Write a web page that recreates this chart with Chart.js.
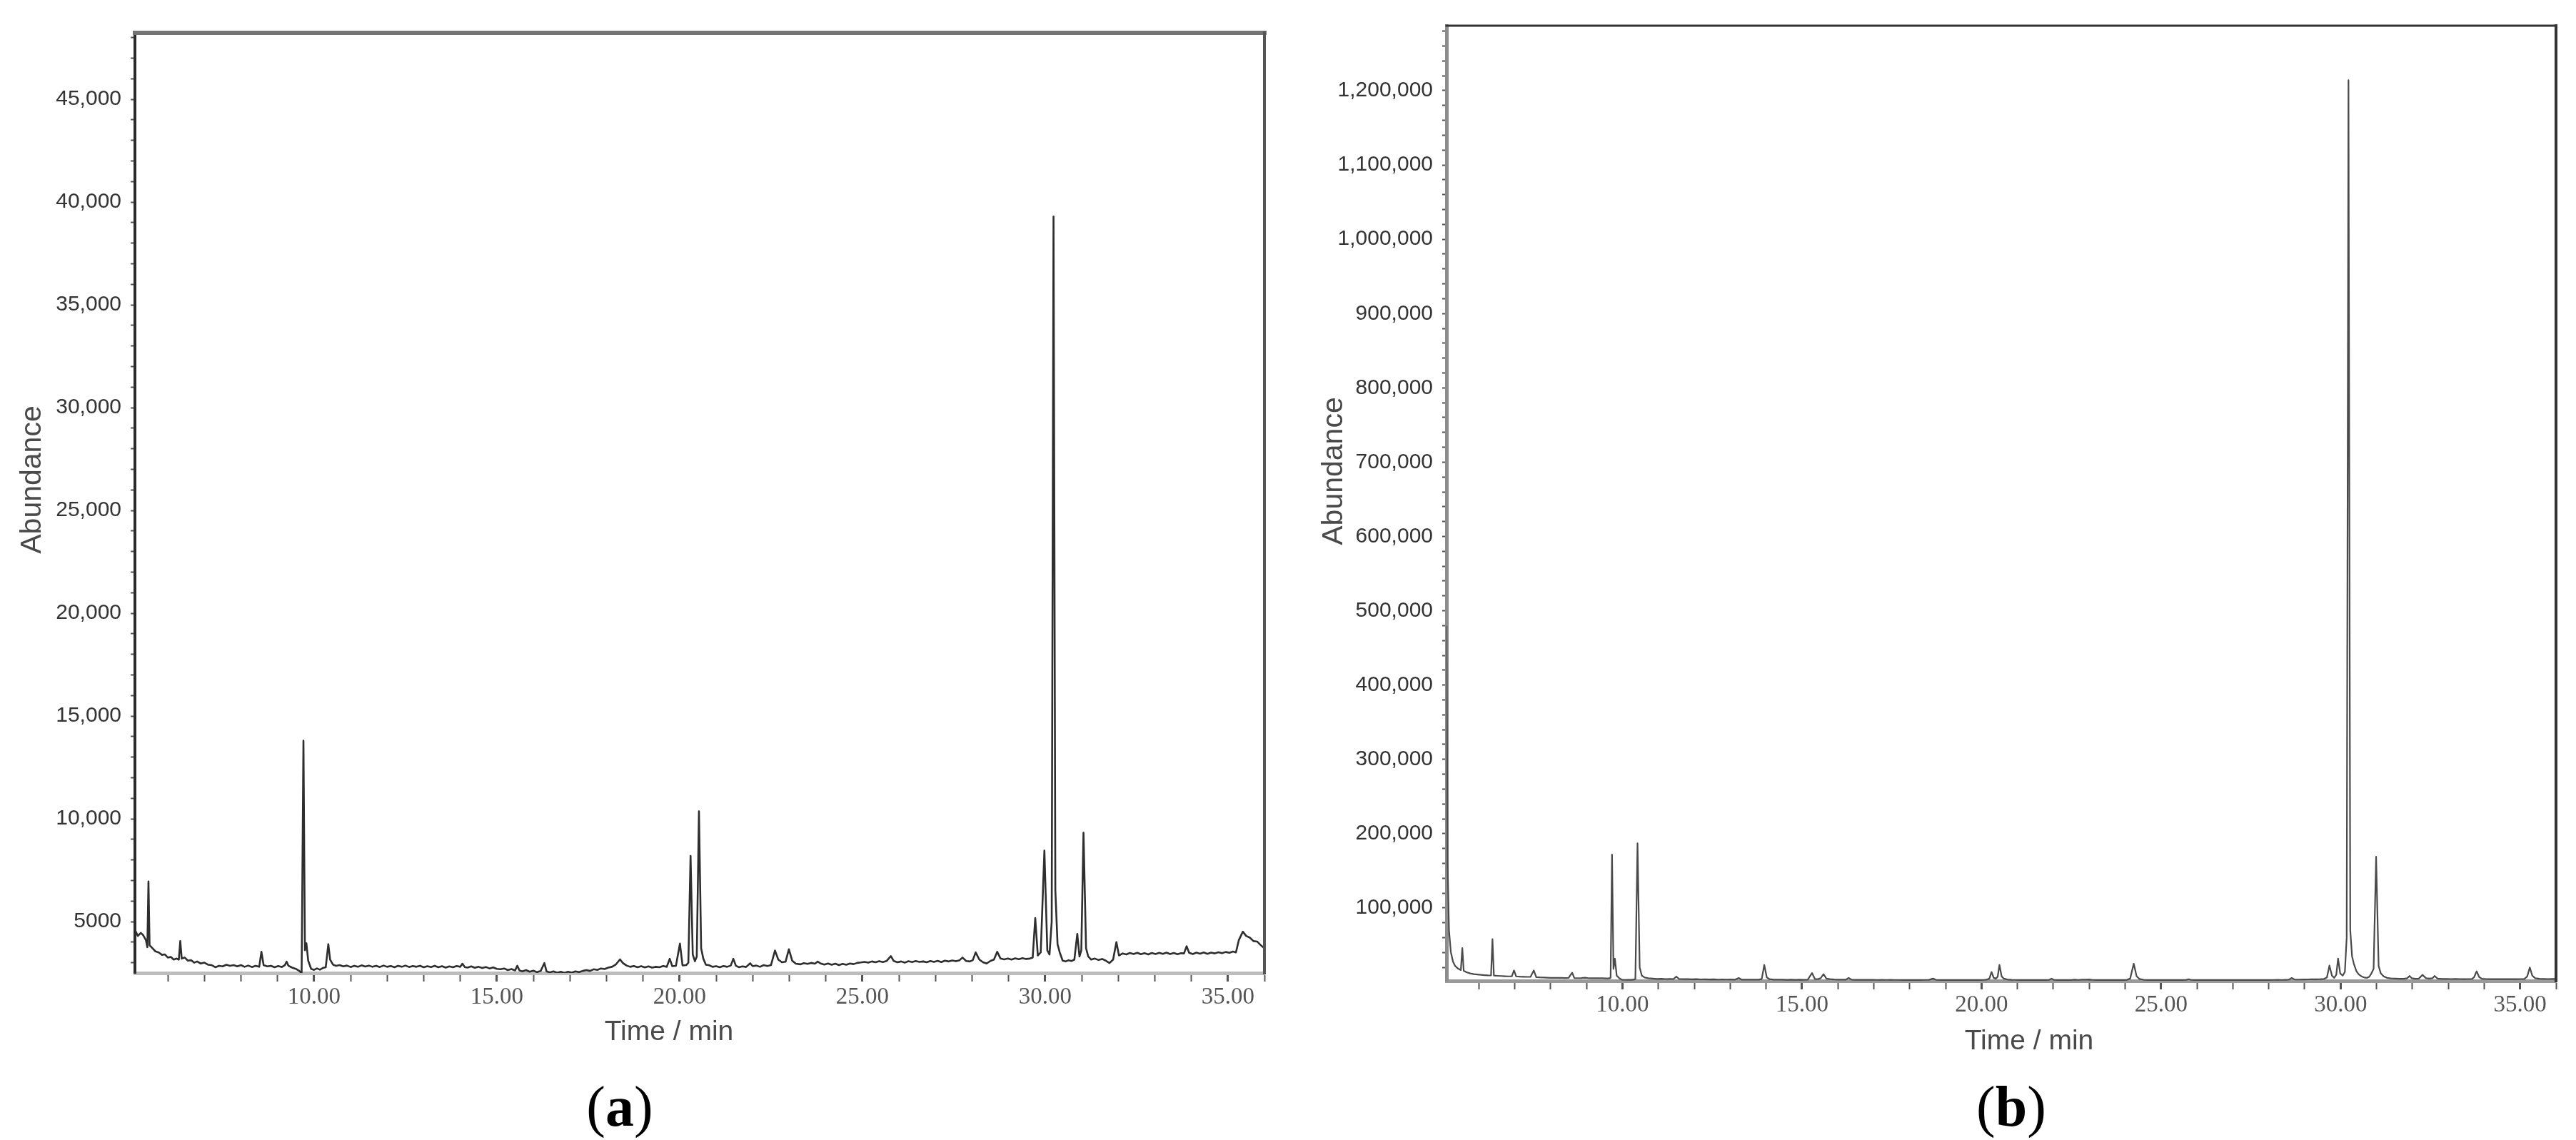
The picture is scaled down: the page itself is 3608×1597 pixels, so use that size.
<!DOCTYPE html>
<html>
<head>
<meta charset="utf-8">
<title>Chromatograms</title>
<script src="https://cdn.jsdelivr.net/npm/chart.js@4.4.1/dist/chart.umd.min.js"></script>
<style>
    html, body { margin: 0; padding: 0; background: #fff; }
    body { width: 3608px; height: 1597px; position: relative; overflow: hidden; font-family: "Liberation Sans", Arial, sans-serif; }
    canvas { position: absolute; top: 0; }
    #chartA { left: 0; }
    #chartB { left: 1800px; }
    .lbl { position: absolute; white-space: nowrap; text-align: center; }
    .ytitle { width: 300px; height: 50px; line-height: 50px; font-size: 41px; color: #4a4a4a; transform: rotate(-90deg); }
    .xtitle { width: 300px; font-size: 39px; line-height: 39px; color: #4a4a4a; }
    .panel { width: 200px; font-family: "Liberation Serif", "Times New Roman", serif; font-size: 80px; line-height: 80px; color: #000; }
</style>
</head>
<body>
<canvas id="chartA" width="1800" height="1597"></canvas>
<canvas id="chartB" width="1808" height="1597"></canvas>

<div class="lbl ytitle" style="left:-107px; top:647px;">Abundance</div>
<div class="lbl ytitle" style="left:1716px; top:635px;">Abundance</div>
<div class="lbl xtitle" style="left:787px; top:1424px;">Time / min</div>
<div class="lbl xtitle" style="left:2692px; top:1437px;">Time / min</div>
<div class="lbl panel" style="left:768px; top:1510px;">(<b>a</b>)</div>
<div class="lbl panel" style="left:2717px; top:1510px;">(<b>b</b>)</div>

<script>
// retention time (min) and abundance
let timeA = [
    5.10, 5.18, 5.26, 5.32, 5.40, 5.44, 5.47, 5.50, 5.58, 5.66,
    5.75, 5.84, 5.92, 6.00, 6.08, 6.16, 6.24, 6.30, 6.34, 6.38,
    6.46, 6.55, 6.64, 6.72, 6.80, 6.90, 7.00, 7.10, 7.20, 7.30,
    7.40, 7.50, 7.60, 7.70, 7.80, 7.90, 8.00, 8.10, 8.20, 8.30,
    8.40, 8.50, 8.56, 8.62, 8.72, 8.82, 8.92, 9.02, 9.12, 9.20,
    9.25, 9.30, 9.40, 9.50, 9.58, 9.66, 9.71, 9.75, 9.79, 9.84,
    9.92, 10.00, 10.08, 10.16, 10.24, 10.32, 10.39, 10.44, 10.52, 10.60,
    10.70, 10.80, 10.90, 11.00, 11.10, 11.20, 11.30, 11.40, 11.50, 11.60,
    11.70, 11.80, 11.90, 12.00, 12.10, 12.20, 12.30, 12.40, 12.50, 12.60,
    12.70, 12.80, 12.90, 13.00, 13.10, 13.20, 13.30, 13.40, 13.50, 13.60,
    13.70, 13.80, 13.90, 14.00, 14.06, 14.12, 14.20, 14.30, 14.40, 14.50,
    14.60, 14.70, 14.80, 14.90, 15.00, 15.10, 15.20, 15.30, 15.40, 15.50,
    15.56, 15.62, 15.70, 15.80, 15.90, 16.00, 16.10, 16.20, 16.30, 16.36,
    16.45, 16.55, 16.65, 16.75, 16.85, 16.95, 17.05, 17.15, 17.25, 17.35,
    17.45, 17.55, 17.65, 17.75, 17.85, 17.95, 18.05, 18.15, 18.25, 18.37,
    18.45, 18.55, 18.65, 18.75, 18.85, 18.95, 19.05, 19.15, 19.25, 19.35,
    19.45, 19.55, 19.65, 19.73, 19.80, 19.90, 20.01, 20.08, 20.18, 20.24,
    20.30, 20.36, 20.42, 20.47, 20.53, 20.59, 20.65, 20.72, 20.80, 20.90,
    21.00, 21.10, 21.20, 21.30, 21.40, 21.47, 21.54, 21.62, 21.72, 21.82,
    21.93, 22.00, 22.10, 22.20, 22.30, 22.40, 22.50, 22.61, 22.70, 22.80,
    22.90, 22.99, 23.08, 23.18, 23.30, 23.40, 23.50, 23.60, 23.70, 23.78,
    23.86, 23.96, 24.06, 24.16, 24.26, 24.36, 24.46, 24.56, 24.66, 24.76,
    24.86, 24.96, 25.06, 25.16, 25.26, 25.36, 25.46, 25.56, 25.66, 25.78,
    25.86, 25.96, 26.06, 26.16, 26.26, 26.36, 26.46, 26.56, 26.66, 26.76,
    26.86, 26.96, 27.06, 27.16, 27.26, 27.36, 27.46, 27.56, 27.66, 27.74,
    27.84, 27.94, 28.02, 28.10, 28.20, 28.30, 28.40, 28.50, 28.60, 28.69,
    28.78, 28.88, 28.98, 29.08, 29.18, 29.28, 29.38, 29.48, 29.58, 29.66,
    29.73, 29.80, 29.88, 29.98, 30.06, 30.12, 30.18, 30.23, 30.28, 30.34,
    30.40, 30.48, 30.56, 30.64, 30.72, 30.80, 30.88, 30.94, 30.99, 31.05,
    31.12, 31.18, 31.26, 31.36, 31.46, 31.56, 31.66, 31.76, 31.86, 31.95,
    32.02, 32.12, 32.22, 32.32, 32.42, 32.52, 32.62, 32.72, 32.82, 32.92,
    33.02, 33.12, 33.22, 33.32, 33.42, 33.52, 33.62, 33.72, 33.80, 33.87,
    33.94, 34.04, 34.14, 34.24, 34.34, 34.44, 34.54, 34.64, 34.74, 34.84,
    34.94, 35.04, 35.14, 35.22, 35.30, 35.41, 35.50, 35.60, 35.70, 35.80,
    35.90, 36.00
]
let abundA = [
    4600, 4300, 4450, 4350, 4100, 3750, 6950, 3850, 3700, 3550,
    3500, 3380, 3400, 3250, 3280, 3150, 3200, 3150, 4050, 3200,
    3250, 3100, 3120, 3000, 3060, 2960, 3000, 2900, 2880, 2780,
    2850, 2820, 2900, 2850, 2880, 2820, 2880, 2800, 2860, 2790,
    2850, 2800, 3530, 2880, 2820, 2850, 2780, 2840, 2790, 2880,
    3050, 2850, 2760, 2700, 2620, 2500, 13800, 3600, 3950, 3100,
    2700, 2650, 2720, 2660, 2740, 2780, 3900, 3150, 2900, 2850,
    2880, 2820, 2860, 2790, 2850, 2800, 2870, 2810, 2860, 2800,
    2850, 2790, 2860, 2800, 2840, 2780, 2850, 2800, 2860, 2790,
    2840, 2800, 2850, 2780, 2830, 2790, 2850, 2780, 2830, 2760,
    2820, 2780, 2840, 2800, 2950, 2790, 2760, 2820, 2750, 2800,
    2740, 2790, 2720, 2770, 2700, 2680, 2720, 2640, 2690, 2620,
    2850, 2620, 2580, 2640, 2560, 2610, 2540, 2600, 2980, 2580,
    2530, 2580, 2510, 2560, 2500, 2560, 2520, 2580, 2540, 2600,
    2640, 2600, 2680, 2650, 2720, 2690, 2760, 2800, 2900, 3160,
    2980, 2860, 2800, 2840, 2780, 2830, 2770, 2820, 2760, 2800,
    2780, 2840, 2800, 3190, 2830, 2850, 3930, 2870, 2880, 3000,
    8190, 3400, 3070, 3300, 10360, 3700, 3190, 2900, 2880, 2800,
    2830, 2780, 2840, 2800, 2860, 3190, 2850, 2780, 2820, 2790,
    2970, 2830, 2860, 2800, 2880, 2840, 2880, 3590, 3150, 3020,
    3050, 3650, 3100, 2950, 2920, 2980, 2940, 2990, 2950, 3050,
    2960, 2910, 2960, 2900, 2950, 2880, 2940, 2900, 2960, 2930,
    2990, 3010, 3040, 3000, 3060, 3020, 3070, 3030, 3080, 3320,
    3080, 3020, 3060, 3000, 3070, 3030, 3080, 3040, 3060, 3020,
    3080, 3040, 3090, 3030, 3100, 3060, 3110, 3070, 3120, 3250,
    3080, 3060, 3120, 3500, 3150, 3020, 2960, 3080, 3150, 3530,
    3200, 3160, 3200, 3150, 3210, 3170, 3220, 3180, 3200, 3250,
    5170, 3350, 3500, 8450, 3600, 3400, 5000, 39300, 6500, 3900,
    3500, 3100, 3060, 3120, 3080, 3150, 4400, 3300, 3600, 9320,
    3700, 3300, 3150, 3200, 3130, 3180, 3100, 2980, 3150, 4000,
    3350, 3450, 3400, 3470, 3420, 3480, 3410, 3460, 3400, 3470,
    3420, 3480, 3430, 3490, 3420, 3470, 3410, 3460, 3450, 3800,
    3480, 3420, 3490, 3440, 3500, 3430, 3490, 3450, 3510, 3460,
    3520, 3480, 3540, 3500, 4100, 4510, 4300, 4220, 4050, 4030,
    3850, 3700
]

// retention time (min) and abundance
let timeB = [
    5.10, 5.13, 5.17, 5.22, 5.28, 5.34, 5.42, 5.50, 5.54, 5.58,
    5.66, 5.76, 5.86, 5.96, 6.06, 6.16, 6.26, 6.34, 6.38, 6.42,
    6.52, 6.62, 6.72, 6.82, 6.92, 6.98, 7.04, 7.14, 7.24, 7.34,
    7.44, 7.53, 7.60, 7.70, 7.80, 7.90, 8.00, 8.10, 8.20, 8.30,
    8.40, 8.50, 8.60, 8.66, 8.76, 8.86, 8.96, 9.04, 9.14, 9.24,
    9.34, 9.44, 9.54, 9.62, 9.67, 9.71, 9.75, 9.79, 9.84, 9.90,
    9.98, 10.06, 10.14, 10.22, 10.30, 10.36, 10.42, 10.48, 10.54, 10.62,
    10.72, 10.84, 10.96, 11.08, 11.20, 11.32, 11.42, 11.50, 11.58, 11.70,
    11.82, 11.94, 12.06, 12.18, 12.30, 12.42, 12.54, 12.66, 12.78, 12.90,
    13.02, 13.14, 13.24, 13.32, 13.44, 13.56, 13.68, 13.80, 13.88, 13.95,
    14.02, 14.10, 14.22, 14.34, 14.46, 14.58, 14.70, 14.82, 14.94, 15.06,
    15.16, 15.28, 15.36, 15.44, 15.52, 15.60, 15.68, 15.78, 15.90, 16.02,
    16.14, 16.22, 16.30, 16.38, 16.50, 16.62, 16.74, 16.86, 16.98, 17.10,
    17.22, 17.34, 17.46, 17.58, 17.70, 17.82, 17.94, 18.06, 18.18, 18.30,
    18.42, 18.54, 18.65, 18.74, 18.86, 18.98, 19.10, 19.22, 19.34, 19.46,
    19.58, 19.70, 19.82, 19.94, 20.06, 20.14, 20.22, 20.28, 20.34, 20.40,
    20.45, 20.50, 20.56, 20.62, 20.72, 20.84, 20.96, 21.08, 21.20, 21.32,
    21.44, 21.56, 21.68, 21.80, 21.88, 21.95, 22.02, 22.14, 22.26, 22.38,
    22.50, 22.60, 22.70, 22.80, 22.90, 23.00, 23.10, 23.22, 23.34, 23.46,
    23.58, 23.70, 23.82, 23.94, 24.04, 24.14, 24.24, 24.32, 24.40, 24.52,
    24.64, 24.76, 24.88, 25.00, 25.12, 25.24, 25.36, 25.48, 25.60, 25.70,
    25.77, 25.84, 25.96, 26.08, 26.20, 26.32, 26.44, 26.56, 26.68, 26.80,
    26.92, 27.04, 27.16, 27.28, 27.40, 27.52, 27.64, 27.76, 27.88, 28.00,
    28.12, 28.24, 28.36, 28.48, 28.56, 28.64, 28.72, 28.84, 28.96, 29.08,
    29.20, 29.32, 29.44, 29.54, 29.62, 29.69, 29.76, 29.82, 29.88, 29.93,
    29.99, 30.06, 30.12, 30.17, 30.22, 30.27, 30.32, 30.37, 30.44, 30.50,
    30.58, 30.66, 30.74, 30.80, 30.86, 30.92, 30.99, 31.06, 31.12, 31.20,
    31.29, 31.40, 31.52, 31.64, 31.76, 31.86, 31.92, 31.98, 32.08, 32.18,
    32.28, 32.38, 32.48, 32.56, 32.62, 32.70, 32.84, 32.96, 33.08, 33.20,
    33.32, 33.44, 33.56, 33.66, 33.72, 33.79, 33.86, 33.94, 34.06, 34.18,
    34.30, 34.42, 34.54, 34.66, 34.78, 34.90, 35.02, 35.12, 35.20, 35.27,
    35.34, 35.42, 35.54, 35.66, 35.78, 35.90, 36.00
]
let abundB = [
    480000, 160000, 70000, 41000, 28000, 22000, 18500, 16500, 46000, 15500,
    13500, 12000, 11000, 10500, 10000, 9600, 9300, 9200, 58000, 9000,
    8700, 8500, 8200, 8000, 8200, 16000, 8000, 7600, 7400, 7300,
    7300, 16000, 7000, 6600, 6400, 6200, 6000, 6100, 5900, 6000,
    5800, 5900, 12900, 5800, 5600, 5700, 6200, 5600, 5500, 5600,
    5400, 5500, 5300, 5200, 6000, 172000, 18000, 31800, 9000, 6000,
    3500, 3200, 3300, 3400, 3500, 4500, 187000, 20000, 9000, 6500,
    5500, 5000, 4600, 4800, 4400, 4600, 4400, 7700, 4400, 4200,
    4300, 4000, 4200, 3900, 4100, 3800, 4000, 3700, 3900, 3700,
    3800, 3600, 5800, 3600, 3700, 3500, 3600, 3500, 4500, 23400,
    6500, 4200, 3600, 3500, 3600, 3400, 3500, 3400, 3500, 3400,
    3600, 12500, 4500, 4200, 5500, 11000, 5000, 4200, 3800, 3600,
    3500, 3600, 6000, 3500, 3400, 3300, 3400, 3300, 3300, 3200,
    3300, 3200, 3300, 3200, 3200, 3100, 3200, 3100, 3200, 3100,
    3200, 3300, 5000, 3200, 3100, 3100, 3000, 3100, 3000, 3100,
    3000, 3100, 3000, 3100, 3200, 3500, 5000, 13800, 6000, 5000,
    7500, 23400, 8000, 5000, 3800, 3400, 3200, 3100, 3000, 3100,
    3000, 3100, 3000, 3100, 3200, 5000, 3200, 3000, 3100, 3000,
    3100, 3600, 3200, 3500, 3600, 3800, 3200, 3000, 3100, 3000,
    3100, 3000, 3100, 3000, 3200, 5000, 25000, 8000, 4500, 3400,
    3100, 3000, 3100, 3000, 3100, 3000, 3100, 3000, 3100, 3300,
    4200, 3200, 3000, 3100, 3000, 3100, 3000, 3100, 3000, 3100,
    3000, 3100, 3000, 3100, 3000, 3100, 3000, 3100, 3200, 3100,
    3200, 3300, 3200, 3400, 3600, 5800, 3800, 3700, 3800, 3900,
    4000, 4100, 4300, 4600, 6500, 22500, 9000, 6000, 10000, 32000,
    12000, 9000, 14000, 60000, 1214000, 70000, 35000, 25000, 15000, 11000,
    8000, 6500, 6000, 7500, 12000, 18000, 169000, 22000, 12000, 8000,
    6000, 5200, 5000, 4800, 4800, 5500, 8500, 5500, 4800, 5000,
    10000, 5500, 5000, 5500, 8500, 5000, 4600, 4500, 4400, 4500,
    4400, 4300, 4400, 4600, 7000, 14800, 7000, 4800, 4400, 4300,
    4400, 4300, 4400, 4300, 4400, 4300, 4400, 4500, 8000, 20000,
    9000, 5500, 4700, 4500, 4400, 4500, 4600
]

// axis ticks and labels
let timeMajor = [10, 15, 20, 25, 30, 35]
let timeLabels = ["10.00", "15.00", "20.00", "25.00", "30.00", "35.00"]

let yMajorA = [5000, 10000, 15000, 20000, 25000, 30000, 35000, 40000, 45000]
let yLabelsA = ["5000", "10,000", "15,000", "20,000", "25,000", "30,000", "35,000", "40,000", "45,000"]

let yMajorB = [100000, 200000, 300000, 400000, 500000, 600000, 700000, 800000, 900000, 1000000, 1100000, 1200000]
let yLabelsB = ["100,000", "200,000", "300,000", "400,000", "500,000", "600,000", "700,000", "800,000", "900,000", "1,000,000", "1,100,000", "1,200,000"]

function tickList(min, max, step) {
    let list = []
    for (let v = Math.ceil(min / step) * step; v <= max + 1e-9; v += step) {
        list.push(Math.round(v * 1000) / 1000)
    }
    return list
}

function labelFor(value, majors, labels) {
    let i = majors.indexOf(value)
    return i >= 0 ? labels[i] : ""
}

// top and right edges of the plot box
const framePlugin = {
    id: "frame",
    afterDraw(chart, args, opts) {
        let {ctx, chartArea} = chart
        ctx.save()
        ctx.lineCap = "square"
        ctx.strokeStyle = opts.topColor
        ctx.lineWidth = opts.topWidth
        ctx.beginPath()
        ctx.moveTo(chartArea.left, chartArea.top)
        ctx.lineTo(chartArea.right, chartArea.top)
        ctx.stroke()
        ctx.strokeStyle = opts.rightColor
        ctx.lineWidth = opts.rightWidth
        ctx.beginPath()
        ctx.moveTo(chartArea.right, chartArea.top)
        ctx.lineTo(chartArea.right, chartArea.bottom)
        ctx.stroke()
        ctx.restore()
    }
}

function makeConfig(p) {
    let xTicks = tickList(p.xMin, p.xMax, 1)
    let yTicks = tickList(p.yMin, p.yMax, p.yMinor)
    return {
        type: "line",
        data: {
            datasets: [{
                data: p.times.map((t, i) => ({x: t, y: p.values[i]})),
                borderColor: p.lineColor,
                borderWidth: p.lineWidth,
                borderJoinStyle: "round",
                pointRadius: 0,
                tension: 0,
                fill: false
            }]
        },
        options: {
            responsive: false,
            animation: false,
            events: [],
            layout: {autoPadding: false, padding: p.padding},
            plugins: {
                legend: {display: false},
                tooltip: {enabled: false},
                frame: p.frame
            },
            scales: {
                x: {
                    type: "linear",
                    min: p.xMin,
                    max: p.xMax,
                    afterFit: (scale) => { scale.height = 120 },
                    afterBuildTicks: (scale) => { scale.ticks = xTicks.map(v => ({value: v})) },
                    ticks: {
                        autoSkip: false,
                        maxRotation: 0,
                        padding: 3,
                        color: "#555",
                        font: {family: "'Liberation Serif', 'Times New Roman', serif", size: 33},
                        callback: (v) => labelFor(v, timeMajor, timeLabels)
                    },
                    grid: {
                        drawOnChartArea: false,
                        tickLength: 12,
                        tickColor: "#555",
                        tickWidth: (ctx) => ctx.tick && timeMajor.includes(ctx.tick.value) ? 3 : 2
                    },
                    border: {color: p.bottomColor, width: 5}
                },
                y: {
                    type: "linear",
                    min: p.yMin,
                    max: p.yMax,
                    afterFit: (scale) => { scale.width = p.yAxisWidth },
                    afterBuildTicks: (scale) => { scale.ticks = yTicks.map(v => ({value: v})) },
                    ticks: {
                        autoSkip: false,
                        padding: 13,
                        color: "#333",
                        font: {family: "'Liberation Sans', Arial, sans-serif", size: 30},
                        callback: (v) => labelFor(v, p.yMajor, p.yLabels)
                    },
                    grid: {
                        drawOnChartArea: false,
                        tickLength: 6,
                        tickColor: "#555",
                        tickWidth: 2
                    },
                    border: {color: p.leftColor, width: p.leftWidth}
                }
            }
        },
        plugins: [framePlugin]
    }
}

let configA = makeConfig({
    times: timeA, values: abundA, lineColor: "#2e2e2e", lineWidth: 2.6,
    xMin: 5.1, xMax: 36, yMin: 2500, yMax: 48230, yMinor: 1000,
    yMajor: yMajorA, yLabels: yLabelsA, yAxisWidth: 189,
    padding: {left: 0, top: 46, right: 29, bottom: 114},
    leftColor: "#2b2b2b", leftWidth: 4, bottomColor: "#bdbdbd",
    frame: {topColor: "#737373", topWidth: 6, rightColor: "#555", rightWidth: 4}
})

let configB = makeConfig({
    times: timeB, values: abundB, lineColor: "#4a4a4a", lineWidth: 2.2,
    xMin: 5.1, xMax: 36, yMin: 2000, yMax: 1287400, yMinor: 20000,
    yMajor: yMajorB, yLabels: yLabelsB, yAxisWidth: 226,
    padding: {left: 0, top: 36, right: 28, bottom: 103},
    leftColor: "#8c8c8c", leftWidth: 5, bottomColor: "#9a9a9a",
    frame: {topColor: "#333", topWidth: 3, rightColor: "#333", rightWidth: 4}
})

const chartA = new Chart(document.querySelector("#chartA"), configA)
const chartB = new Chart(document.querySelector("#chartB"), configB)
</script>
</body>
</html>
